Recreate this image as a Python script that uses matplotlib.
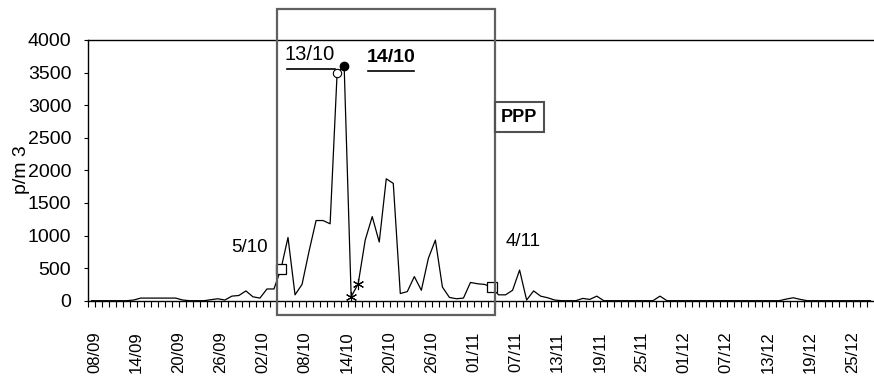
import numpy as np
import matplotlib
matplotlib.use("Agg")
import matplotlib.pyplot as plt
from matplotlib.patches import Rectangle
from matplotlib.lines import Line2D
import matplotlib.transforms as mtransforms
import datetime as dt

# pollen counts p/m3, one value per day from 08/09 to 28/12
start_date = dt.date(2003, 9, 8)
values = [0, 0, 0, 0, 0, 0, 10, 40, 40, 40,
          40, 40, 40, 10, 0, 0, 0, 15, 30, 10,
          70, 80, 150, 60, 40, 180, 180, 490, 970, 90,
          250, 760, 1230, 1230, 1180, 3500, 3600, 60, 260, 930,
          1290, 900, 1870, 1800, 110, 140, 370, 160, 650, 930,
          210, 50, 30, 40, 280, 260, 250, 210, 90, 90,
          160, 470, 10, 150, 70, 45, 10, 0, 0, 0,
          35, 20, 70, 0, 0, 0, 0, 0, 0, 0,
          0, 70, 0, 0, 0, 0, 0, 0, 0, 0,
          0, 0, 0, 0, 0, 0, 0, 0, 0, 25,
          45, 20, 0, 0, 0, 0, 0, 0, 0, 0,
          0, 0]
dates = [start_date + dt.timedelta(days=k) for k in range(len(values))]
day_labels = [d.strftime("%d/%m") for d in dates]

# marked days (index into values)
square_days = [27, 57]     # 5/10 and 4/11
open_circle_day = [35]     # 13/10
filled_circle_day = [36]   # 14/10
star_days = [37, 38]

y_ticks = [0, 500, 1000, 1500, 2000, 2500, 3000, 3500, 4000]

plt.rcParams["font.family"] = ["Liberation Sans", "DejaVu Sans"]

W, H = 874, 378
fig = plt.figure(figsize=(W / 100, H / 100), dpi=100)

def fx(x):
    return x / W

def fy(y):
    return 1 - y / H

ax = fig.add_axes([fx(88), fy(300.7), fx(874 - 88), fy(40) - fy(300.7)])

x = np.arange(len(values))
ax.plot(x, values, color="black", lw=0.9, zorder=3)

vals = np.array(values)
ax.plot(square_days, vals[square_days], ls="none", marker="s", ms=7,
        mfc="white", mec="black", mew=0.9, zorder=4)
ax.plot(open_circle_day, vals[open_circle_day], ls="none", marker="o", ms=6,
        mfc="white", mec="black", mew=0.8, zorder=4)
ax.plot(filled_circle_day, vals[filled_circle_day], ls="none", marker="o", ms=6,
        mfc="black", mec="black", zorder=4)
ax.plot(star_days, vals[star_days], ls="none", marker=(6, 2, 0), ms=8,
        color="black", mew=0.8, zorder=4)

ax.set_xlim(-0.5, len(values) - 0.5)
ax.set_ylim(0, 4000)

# labels every 6 days, small ticks between every day
ax.set_xticks(x[::6])
ax.set_xticklabels(day_labels[::6], rotation=90, fontsize=12)
ax.set_xticks(x - 0.5, minor=True)
ax.tick_params(axis="x", which="major", length=0, pad=22)
ax.tick_params(axis="x", which="minor", length=4, width=0.8, direction="out")
# excel puts the rotated labels a touch right of the day
shift = mtransforms.ScaledTranslation(3 / 100, 0, fig.dpi_scale_trans)
for lab in ax.get_xticklabels():
    lab.set_transform(lab.get_transform() + shift)
ax.set_yticks(y_ticks)
ax.set_yticklabels([str(v) for v in y_ticks], fontsize=14)
ax.tick_params(axis="y", length=3, width=0.8, pad=9)

for s in ["left", "top", "bottom"]:
    ax.spines[s].set_linewidth(1.0)
ax.spines["right"].set_visible(False)

fig.text(fx(22), fy(170), "p/m 3", rotation=90, ha="center", va="center",
         fontsize=14)

# the grey box round the peak period
fig.patches.append(Rectangle((fx(277), fy(315)), fx(495 - 277), fy(9) - fy(315),
                             transform=fig.transFigure, fill=False,
                             ec="#606060", lw=1.6, zorder=5))

# annotations
fig.text(fx(310), fy(55), "13/10", ha="center", va="center", fontsize=14.5)
fig.lines.append(Line2D([fx(287), fx(335)], [fy(69), fy(69)],
                        transform=fig.transFigure, color="black", lw=1.2))
fig.text(fx(391), fy(57), "14/10", ha="center", va="center", fontsize=14,
         fontweight="bold")
fig.lines.append(Line2D([fx(368), fx(414)], [fy(71), fy(71)],
                        transform=fig.transFigure, color="black", lw=1.2))
fig.text(fx(250), fy(247), "5/10", ha="center", va="center", fontsize=13.5)
fig.text(fx(523), fy(242), "4/11", ha="center", va="center", fontsize=13.5)
fig.text(fx(519), fy(117), "PPP", ha="center", va="center", fontsize=13,
         fontweight="bold")
fig.patches.append(Rectangle((fx(495), fy(132)), fx(544 - 495), fy(102) - fy(132),
                             transform=fig.transFigure, fill=False,
                             ec="#505050", lw=1.5, zorder=5))

fig.savefig("out.png", dpi=100)
